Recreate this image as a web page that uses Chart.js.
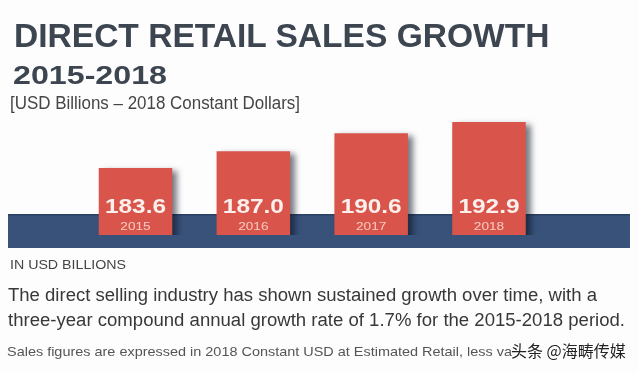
<!DOCTYPE html>
<html>
<head>
<meta charset="utf-8">
<script src="https://cdn.jsdelivr.net/npm/chart.js@4.4.1/dist/chart.umd.min.js"></script>
<style>
  html, body { margin:0; padding:0; background:#fdfdfd; }
  body { width:638px; height:372px; position:relative; overflow:hidden; font-family:"Liberation Sans", Arial, sans-serif; }
  #chart { position:absolute; left:0; top:0; }
  .txt { position:absolute; white-space:nowrap; line-height:1; transform-origin:0 0; }
  #wm { color:#222; text-shadow:0 0 2px #fff, 0 0 2px #fff, 0 0 3px #fff; font-family:"Noto Sans CJK SC", sans-serif; }
</style>
</head>
<body>
<canvas id="chart" width="638" height="372"></canvas>
<div id="texts"></div>
<script>
// chart data
var years = ['2015', '2016', '2017', '2018']
var sales = [183.6, 187.0, 190.6, 192.9]

// text lines: [text, size, bold, x, baseline, target width, color]
var lines = [
    ['DIRECT RETAIL SALES GROWTH', 33, true, 14, 46.5, 536, '#3c4550'],
    ['2015-2018', 26.5, true, 13, 84, 154, '#3c4550'],
    ['[USD Billions \u2013 2018 Constant Dollars]', 17.5, false, 10, 110, 290, '#454545'],
    ['IN USD BILLIONS', 13, false, 10, 269, 116, '#444'],
    ['The direct selling industry has shown sustained growth over time, with a', 18, false, 8, 301, 589, '#383838'],
    ['three-year compound annual growth rate of 1.7% for the 2015-2018 period.', 18, false, 8, 326, 617, '#383838'],
    ['Sales figures are expressed in 2018 Constant USD at Estimated Retail, less va', 13, false, 7, 356.5, 505, '#555']
]

var mctx = document.createElement('canvas').getContext('2d')
var box = document.getElementById('texts')
lines.forEach(function(l){
    var d = document.createElement('div')
    d.className = 'txt'
    d.textContent = l[0]
    var font = (l[2] ? 'bold ' : '') + l[1] + 'px "Liberation Sans", Arial, sans-serif'
    mctx.font = font
    var w = mctx.measureText(l[0]).width
    d.style.font = font
    d.style.lineHeight = '1'
    d.style.transform = 'scaleX(' + (l[5] / w).toFixed(4) + ')'
    d.style.left = l[3] + 'px'
    d.style.top = (l[4] - 0.8465 * l[1]) + 'px'
    d.style.color = l[6]
    box.appendChild(d)
})

// watermark
var wm = document.createElement('div')
wm.className = 'txt'
wm.id = 'wm'
wm.textContent = '头条 @海畴传媒'
wm.style.fontSize = '16px'
wm.style.left = '511px'
wm.style.top = '342px'
box.appendChild(wm)

// band behind bars, shadows and labels inside bars
var decor = {
    id: 'decor',
    beforeDatasetsDraw: function(chart){
        var c = chart.ctx
        var a = chart.chartArea
        c.save()
        c.fillStyle = '#38527a'
        c.fillRect(8, a.bottom - 21, 622, 34)
        c.fillStyle = 'rgba(20,35,60,0.35)'
        c.fillRect(8, a.bottom - 21, 622, 1.5)
        c.restore()
        c.save()
        c.shadowColor = 'rgba(10,15,30,0.55)'
        c.shadowOffsetX = 5
        c.shadowOffsetY = 3
        c.shadowBlur = 6
    },
    afterDatasetsDraw: function(chart){
        var c = chart.ctx
        c.restore()
        var a = chart.chartArea
        var bars = chart.getDatasetMeta(0).data
        bars.forEach(function(bar, i){
            c.save()
            c.textAlign = 'center'
            c.textBaseline = 'alphabetic'
            c.translate(bar.x, a.bottom - 22)
            c.scale(1.22, 1)
            c.font = 'bold 20px "Liberation Sans", Arial, sans-serif'
            c.fillStyle = '#fbf0ec'
            c.fillText(sales[i].toFixed(1), 0, 0)
            c.restore()
            c.save()
            c.textAlign = 'center'
            c.translate(bar.x, a.bottom - 5)
            c.scale(1.3, 1)
            c.font = '10.5px "Liberation Sans", Arial, sans-serif'
            c.fillStyle = '#f7cbc1'
            c.fillText(years[i], 0, 0)
            c.restore()
        })
    }
}

var ctx = document.getElementById('chart').getContext('2d')
var chart = new Chart(ctx, {
    type: 'bar',
    plugins: [decor],
    data: {
        labels: years,
        datasets: [{
            data: sales,
            backgroundColor: '#d9554b',
            borderWidth: 0,
            barPercentage: 0.624,
            categoryPercentage: 1
        }]
    },
    options: {
        responsive: false,
        animation: false,
        layout: {
            padding: { left: 76.6, right: 90.1, top: 106.5, bottom: 137 }
        },
        scales: {
            x: { display: false },
            y: { display: false, min: 170.1, max: 196 }
        },
        plugins: {
            legend: { display: false },
            tooltip: { enabled: false }
        }
    }
})
</script>
</body>
</html>
